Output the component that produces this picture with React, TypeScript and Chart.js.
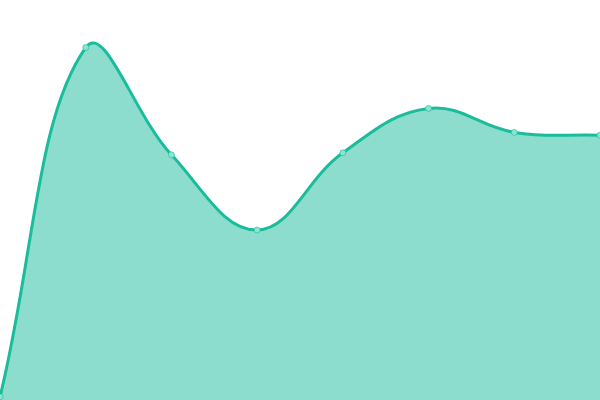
import React, { useRef, useEffect } from "react";
import Chart from "chart.js/auto";

// values, y scale 0..100
const labels = ["1", "2", "3", "4", "5", "6", "7", "8"];
const values = [0.8, 88.1, 61.3, 42.5, 61.8, 72.9, 66.9, 66.2];

const LINE = "#1abc9c";
const FILL = "rgba(26, 188, 156, 0.5)";

export default function App() {
  const canvasRef = useRef<HTMLCanvasElement>(null);

  useEffect(() => {
    document.body.style.margin = "0";
    if (!canvasRef.current) return;
    const chart = new Chart(canvasRef.current, {
      type: "line",
      data: {
        labels,
        datasets: [
          {
            data: values,
            borderColor: LINE,
            backgroundColor: FILL,
            fill: true,
            borderWidth: 3,
            tension: 0.4,
            pointRadius: 3,
            pointBorderWidth: 1,
            pointBackgroundColor: "#8fe3d2",
            pointBorderColor: "rgba(26, 188, 156, 0.6)",
          },
        ],
      },
      options: {
        responsive: false,
        maintainAspectRatio: false,
        animation: false,
        layout: { padding: 0, autoPadding: false },
        scales: {
          x: { display: false },
          y: { display: false, min: 0, max: 100 },
        },
        plugins: {
          legend: { display: false },
          tooltip: { enabled: false },
        },
      },
    });
    return () => chart.destroy();
  }, []);

  return <canvas ref={canvasRef} width={600} height={400} style={{ display: "block" }} />;
}
